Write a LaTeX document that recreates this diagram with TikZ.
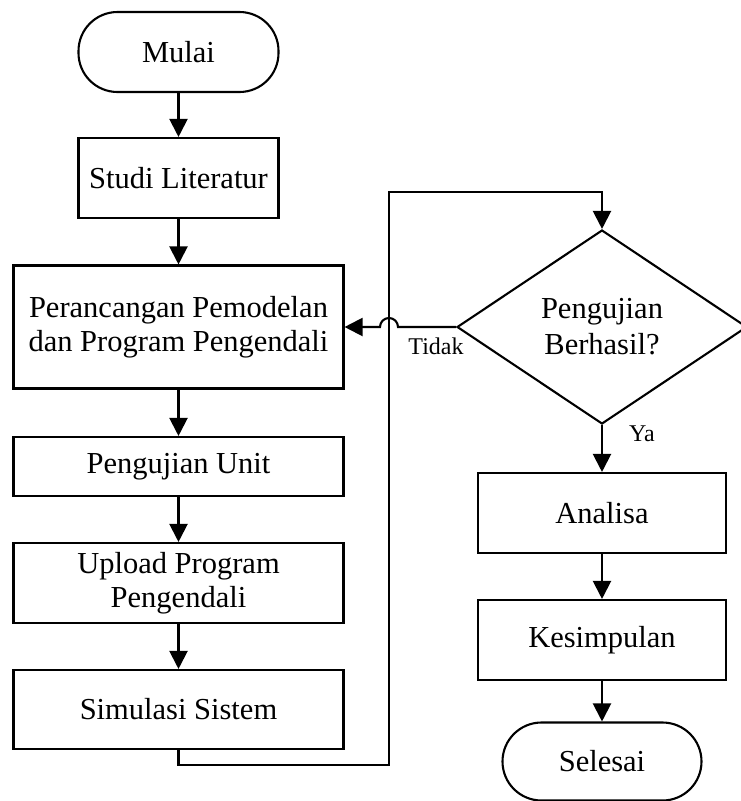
\documentclass[tikz,border=0pt]{standalone}
\usepackage{fontspec}
\setmainfont{Liberation Serif}
\usetikzlibrary{shapes.geometric,arrows.meta}
\begin{document}
\begin{tikzpicture}[x=1pt,y=-1pt,
  box/.style={draw, line width=2.1pt, inner sep=0pt, align=center,
    font=\fontsize{30.5}{34}\selectfont},
  term/.style={box, rounded corners=39pt},
  arr/.style={line width=2.1pt, -{Triangle[length=18pt,width=18pt]}},
  lbl/.style={font=\fontsize{24}{28}\selectfont, inner sep=0pt}]
\useasboundingbox (0,0) rectangle (740,801);
\node[term, minimum width=200pt, minimum height=80pt] (mulai) at (178.5,52) {Mulai};
\node[box, minimum width=200pt, minimum height=80pt] (studi) at (178.5,178) {Studi Literatur};
\node[box, minimum width=330pt, minimum height=123pt] (peran) at (178.5,327) {Perancangan Pemodelan\\dan Program Pengendali};
\node[box, minimum width=330pt, minimum height=59pt] (unit) at (178.5,466.5) {Pengujian Unit};
\node[box, minimum width=330pt, minimum height=80pt] (upload) at (178.5,583) {Upload Program\\Pengendali};
\node[box, minimum width=330pt, minimum height=79pt] (simul) at (178.5,709.5) {Simulasi Sistem};
\node[diamond, draw, line width=2.1pt, inner sep=0pt, minimum width=290pt, minimum height=194pt] (dia) at (602,327) {};
\node[align=center, inner sep=0pt, font=\fontsize{30.5}{36}\selectfont] (diatext) at (dia.center) {Pengujian\\Berhasil?};
\node[box, minimum width=248pt, minimum height=80pt] (analisa) at (602,513) {Analisa};
\node[box, minimum width=248pt, minimum height=80pt] (kesim) at (602,640) {Kesimpulan};
\node[term, minimum width=199pt, minimum height=78pt] (selesai) at (602,761.5) {Selesai};
\node[lbl] (tidak) at (436,346) {Tidak};
\node[lbl] (ya) at (642,434) {Ya};
\coordinate (c1) at (389,765);
\coordinate (c2) at (389,192);
\coordinate (h1) at (398,327);
\draw[arr] (mulai) -- (studi);
\draw[arr] (studi) -- (peran);
\draw[arr] (peran) -- (unit);
\draw[arr] (unit) -- (upload);
\draw[arr] (upload) -- (simul);
\draw[arr] (simul.south) |- (c1) -- (c2) -| (dia.north);
\draw[arr] (dia.west) -- (h1) arc[start angle=0, end angle=180, radius=9pt] -- (peran.east);
\draw[arr] (dia.south) -- (analisa.north);
\draw[arr] (analisa) -- (kesim);
\draw[arr] (kesim) -- (selesai);
\end{tikzpicture}
\end{document}
